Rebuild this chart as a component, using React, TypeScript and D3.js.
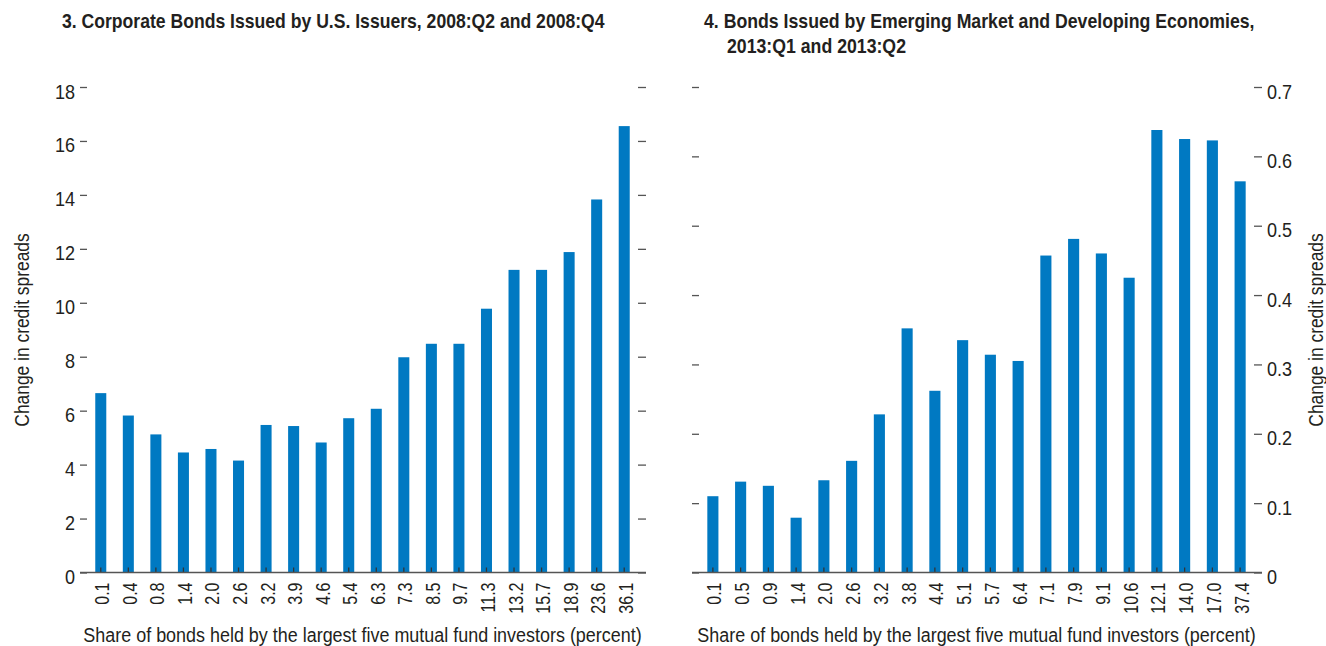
import React, { useEffect, useRef } from "react";
import { select, scaleLinear, scaleBand, axisLeft, axisRight, range } from "d3";

// panel 3: US corporate bonds
const catsUS = ["0.1", "0.4", "0.8", "1.4", "2.0", "2.6", "3.2", "3.9", "4.6", "5.4", "6.3", "7.3", "8.5", "9.7", "11.3", "13.2", "15.7", "18.9", "23.6", "36.1"];
const valsUS = [6.65, 5.82, 5.12, 4.45, 4.58, 4.15, 5.47, 5.43, 4.82, 5.72, 6.07, 7.98, 8.48, 8.48, 9.78, 11.22, 11.22, 11.88, 13.83, 16.55];
const ticksUS = range(0, 19, 2);

// panel 4: EMDE bonds
const catsEM = ["0.1", "0.5", "0.9", "1.4", "2.0", "2.6", "3.2", "3.8", "4.4", "5.1", "5.7", "6.4", "7.1", "7.9", "9.1", "10.6", "12.1", "14.0", "17.0", "37.4"];
const valsEM = [0.11, 0.131, 0.125, 0.079, 0.133, 0.161, 0.228, 0.352, 0.262, 0.335, 0.314, 0.305, 0.457, 0.481, 0.46, 0.425, 0.638, 0.625, 0.623, 0.564];
const ticksEM = [0, 0.1, 0.2, 0.3, 0.4, 0.5, 0.6, 0.7];

const BLUE = "#0079c2";
const INK = "#231f20";
const FONT = "'Liberation Sans', Arial, sans-serif";
const Y0 = 572.5;
const YTOP = 87;

// text squeezed horizontally to fake the condensed face of the original
const ctext = (parent: any, x: number, y: number, str: string, size: number, sx: number, o: any = {}) =>
  parent
    .append("text")
    .attr("transform", `translate(${x},${y}) rotate(${o.rot || 0}) scale(${sx},1)`)
    .attr("text-anchor", o.anchor || "start")
    .attr("dy", o.dy || 0)
    .attr("fill", INK)
    .style("font-family", FONT)
    .style("font-weight", o.bold ? "bold" : "normal")
    .style("font-size", size + "px")
    .text(str);

export default function App() {
  const svgRef = useRef<SVGSVGElement>(null);

  useEffect(() => {
    const svg = select(svgRef.current);
    svg.selectAll("*").remove();

    const drawPanel = (cats: string[], vals: number[], ticks: number[], x0: number, x1: number, yMax: number, labelsRight: boolean) => {
      const g = svg.append("g");
      const x = scaleBand().domain(cats).range([x0, x1]);
      const y = scaleLinear().domain([0, yMax]).range([Y0, YTOP]);

      const fmt = (d: number) => (yMax < 1 ? (d === 0 ? "0" : d.toFixed(1)) : String(d));

      const left = axisLeft(y).tickValues(ticks).tickSize(7).tickFormat(() => "");
      const right = axisRight(y).tickValues(ticks).tickSize(8).tickFormat(() => "");

      [g.append("g").attr("transform", `translate(${x0},0)`).call(left),
       g.append("g").attr("transform", `translate(${x1},0)`).call(right)].forEach((ax) => {
        ax.select(".domain").remove();
        ax.selectAll("text").remove();
        ax.selectAll("line").attr("stroke", "#555").attr("stroke-width", 1.3);
      });

      ticks.forEach((t) => {
        if (labelsRight) ctext(g, x1 + 13, y(t) + 11.5, fmt(t), 21, 0.86);
        else ctext(g, x0 - 12, y(t) + 11.5, fmt(t), 21, 0.86, { anchor: "end" });
      });

      g.selectAll(".bar")
        .data(vals)
        .join("rect")
        .attr("class", "bar")
        .attr("x", (_, i) => x(cats[i])! + x.bandwidth() * 0.3)
        .attr("width", x.bandwidth() * 0.4)
        .attr("y", (v) => y(v))
        .attr("height", (v) => Y0 - y(v))
        .attr("fill", BLUE);

      // small inside ticks at bar centres
      g.selectAll(".xtick")
        .data(cats)
        .join("line")
        .attr("x1", (c) => x(c)! + x.bandwidth() / 2)
        .attr("x2", (c) => x(c)! + x.bandwidth() / 2)
        .attr("y1", Y0)
        .attr("y2", Y0 - 5)
        .attr("stroke", "#333")
        .attr("stroke-width", 1.3);

      g.append("line")
        .attr("x1", x0 - 7)
        .attr("x2", x1 + 8)
        .attr("y1", Y0)
        .attr("y2", Y0)
        .attr("stroke", "#555")
        .attr("stroke-width", 1.5);

      cats.forEach((c) => {
        ctext(g, x(c)! + x.bandwidth() / 2 + 1.5, Y0 + 10, c, 20, 0.8, { rot: -90, anchor: "end", dy: "0.35em" });
      });

      ctext(g, (x0 + x1) / 2, 642, "Share of bonds held by the largest five mutual fund investors (percent)", 21, 0.855, { anchor: "middle" });
    };

    drawPanel(catsUS, valsUS, ticksUS, 87, 638, 18, false);
    drawPanel(catsEM, valsEM, ticksEM, 699, 1254, 0.7, true);

    ctext(svg, 62, 28, "3. Corporate Bonds Issued by U.S. Issuers, 2008:Q2 and 2008:Q4", 20, 0.88, { bold: true });
    ctext(svg, 704, 28, "4. Bonds Issued by Emerging Market and Developing Economies,", 20, 0.885, { bold: true });
    ctext(svg, 727, 53, "2013:Q1 and 2013:Q2", 20, 0.885, { bold: true });

    [22, 1316].forEach((cx) => {
      ctext(svg, cx, 330, "Change in credit spreads", 20, 0.87, { rot: -90, anchor: "middle", dy: "0.35em" });
    });
  }, []);

  return (
    <svg ref={svgRef} width={1326} height={646} style={{ position: "absolute", left: 0, top: 0, background: "#fff" }} />
  );
}
